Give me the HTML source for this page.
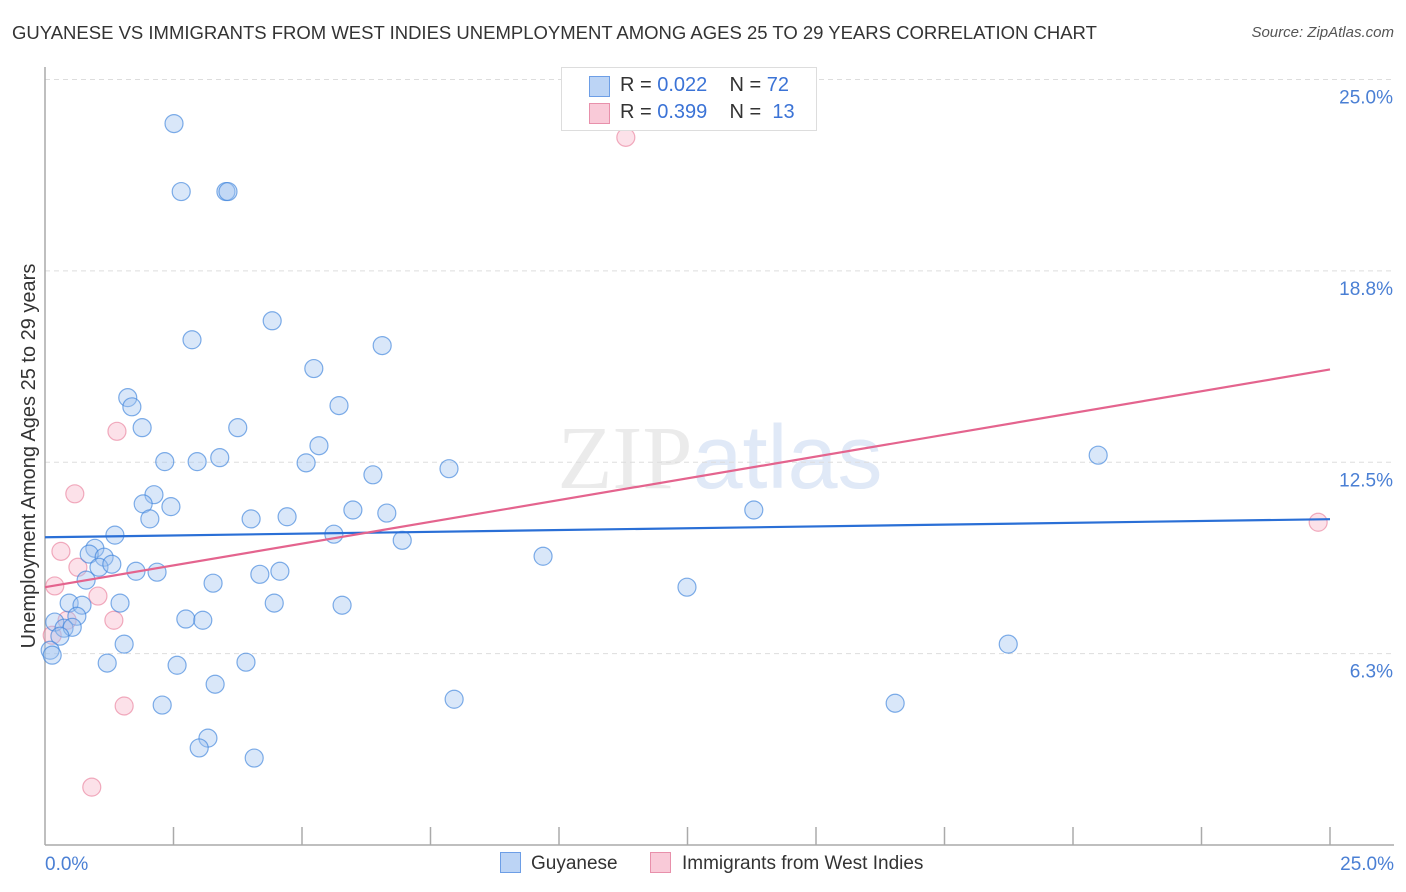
<!DOCTYPE html>
<html><head><meta charset="utf-8"><style>
body{margin:0;background:#fff;font-family:"Liberation Sans",sans-serif;}
#wrap{position:relative;width:1406px;height:892px;overflow:hidden;}
.t{position:absolute;white-space:nowrap;}
</style></head><body>
<div id="wrap">
<div class="t" style="left:12px;top:22px;font-size:18.5px;color:#333;">GUYANESE VS IMMIGRANTS FROM WEST INDIES UNEMPLOYMENT AMONG AGES 25 TO 29 YEARS CORRELATION CHART</div>
<div class="t" style="right:12px;top:24px;font-size:15px;color:#555;font-style:italic;">Source: ZipAtlas.com</div>
<svg id="svg" width="1406" height="892" style="position:absolute;left:0;top:0"></svg>
</div>
<script>
const yTicks=[6.25,12.5,18.75,25];
const yTickLabels=["6.3%","12.5%","18.8%","25.0%"];
const xTickLabels=["0.0%","25.0%"];
const blueX=[2.51,2.65,3.52,3.56,4.42,2.86,6.56,5.23,1.61,1.69,5.72,1.89,3.75,5.33,2.33,2.96,3.40,5.08,6.38,7.86,20.49,2.12,1.91,2.45,2.04,4.01,4.71,5.99,6.65,13.79,1.36,5.62,6.95,0.97,0.86,1.15,1.05,1.30,1.77,2.18,4.18,4.57,9.69,0.80,3.27,12.49,0.47,0.72,1.46,4.46,5.78,0.62,0.19,2.74,3.07,0.37,0.53,0.29,1.54,18.74,0.10,0.14,1.21,2.57,3.91,3.31,2.28,7.96,16.54,3.17,3.00,4.07];
const blueY=[23.56,21.34,21.34,21.34,17.12,16.50,16.31,15.56,14.61,14.31,14.35,13.63,13.63,13.04,12.52,12.52,12.65,12.48,12.09,12.29,12.73,11.44,11.14,11.05,10.65,10.65,10.72,10.94,10.84,10.94,10.12,10.15,9.95,9.69,9.50,9.40,9.07,9.17,8.94,8.91,8.84,8.94,9.43,8.65,8.55,8.42,7.90,7.83,7.90,7.90,7.83,7.47,7.28,7.38,7.34,7.08,7.11,6.82,6.56,6.56,6.36,6.20,5.94,5.87,5.97,5.25,4.57,4.76,4.63,3.49,3.17,2.84];
const pinkX=[11.30,1.40,0.58,0.31,0.64,0.19,1.03,0.43,1.34,0.14,1.54,0.91,24.77];
const pinkY=[23.11,13.51,11.47,9.59,9.07,8.46,8.13,7.34,7.34,6.85,4.54,1.89,10.54];
const blueTrend=[10.05,10.64];
const pinkTrend=[8.42,15.53];
const L=45,R=1330,B=845,T=79.5;
const xs=v=>L+(v/25)*(R-L);
const ys=v=>B-(v/25)*(B-T);
const svg=document.getElementById('svg');
const NS='http://www.w3.org/2000/svg';
function mk(tag,attrs,parent){const e=document.createElementNS(NS,tag);for(const k in attrs)e.setAttribute(k,attrs[k]);(parent||svg).appendChild(e);return e;}
let wm=mk('text',{x:720,y:488,'text-anchor':'middle','font-size':90,'font-family':'Liberation Serif, serif',fill:'#ebebeb'});


wm.innerHTML='ZIP<tspan font-family="Liberation Sans, sans-serif" fill="#e0e9f7">atlas</tspan>';
yTicks.forEach((v,i)=>{
 let g=mk('line',{x1:L,x2:1394,y1:ys(v),y2:ys(v),stroke:'#ddd','stroke-dasharray':'5,4'});
 
 
 let t=mk('text',{x:1393,y:ys(v)+24,'text-anchor':'end','font-size':19,fill:'#4a7fd4'});
 
 
 t.textContent=yTickLabels[i];
});
let ax=mk('line',{x1:L,x2:L,y1:67,y2:B,stroke:'#aaa','stroke-width':1.5});


let bx=mk('line',{x1:L,x2:1394,y1:B,y2:B,stroke:'#aaa','stroke-width':1.5});


for(let i=1;i<=10;i++){let tk=mk('line',{x1:xs(i*2.5),x2:xs(i*2.5),y1:827,y2:B,stroke:'#aaa','stroke-width':1.5});
 
 }
[[0,'start',45],[25,'end',1394]].forEach((a,i)=>{let t=mk('text',{x:a[2],y:870,'text-anchor':a[1],'font-size':19,fill:'#4a7fd4'});
 
 
 t.textContent=xTickLabels[i];});
let yt=mk('text',{x:0,y:0,transform:'translate(35,456) rotate(-90)','text-anchor':'middle','font-size':20,fill:'#333'});


yt.textContent='Unemployment Among Ages 25 to 29 years';
function dots(X,Y,fill,stroke,name){X.forEach((x,i)=>{let c=mk('circle',{cx:xs(x),cy:ys(Y[i]),r:9,fill:fill,stroke:stroke,'stroke-width':1.2});
 
 });}
dots(pinkX,pinkY,'rgba(248,180,200,0.4)','rgba(232,120,150,0.6)','point-west-indies');
dots(blueX,blueY,'rgba(160,195,240,0.4)','rgba(60,130,220,0.65)','point-guyanese');
let bl=mk('line',{x1:xs(0),x2:xs(25),y1:ys(blueTrend[0]),y2:ys(blueTrend[1]),stroke:'#2a6fd6','stroke-width':2.2});


let pl=mk('line',{x1:xs(0),x2:xs(25),y1:ys(pinkTrend[0]),y2:ys(pinkTrend[1]),stroke:'#e4648e','stroke-width':2.2});


</script>
<div class="t" style="left:561px;top:67px;width:254px;height:62px;border:1px solid #ddd;background:#fff;font-size:20px;color:#333;">
 <div style="position:absolute;left:27px;top:8px;width:19px;height:19px;background:#bcd4f5;border:1px solid #6d9ee6;"></div>
 <div style="position:absolute;left:58px;top:6px;">R = <span style="color:#3b73d6">0.022</span>&nbsp;&nbsp;&nbsp;&nbsp;N = <span style="color:#3b73d6">72</span></div>
 <div style="position:absolute;left:27px;top:35px;width:19px;height:19px;background:#f9cad8;border:1px solid #e890ab;"></div>
 <div style="position:absolute;left:58px;top:33px;">R = <span style="color:#3b73d6">0.399</span>&nbsp;&nbsp;&nbsp;&nbsp;N = &nbsp;<span style="color:#3b73d6">13</span></div>
</div>
<div class="t" style="left:500px;top:852px;font-size:19px;color:#333;">
 <span style="display:inline-block;width:19px;height:19px;background:#bcd4f5;border:1px solid #6d9ee6;vertical-align:-4px;margin-right:10px;"></span>Guyanese</div>
<div class="t" style="left:650px;top:852px;font-size:19px;color:#333;">
 <span style="display:inline-block;width:19px;height:19px;background:#f9cad8;border:1px solid #e890ab;vertical-align:-4px;margin-right:11px;"></span>Immigrants from West Indies</div>
</body></html>
